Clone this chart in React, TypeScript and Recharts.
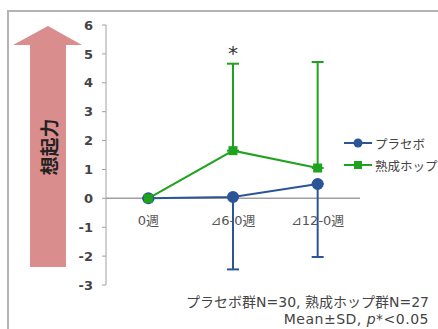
import {
  ComposedChart,
  Line,
  XAxis,
  YAxis,
  ErrorBar,
  ReferenceLine,
  ReferenceDot,
  Legend,
} from "recharts";

// categories and values
const weeks = ["0週", "⊿6-0週", "⊿12-0週"];
const placebo = [0, 0.05, 0.5];
const placeboSD = [0, 2.51, 2.53];
const hop = [0, 1.65, 1.05];
const hopSD = [0, 3.01, 3.67];
const yTicks = [-3, -2, -1, 0, 1, 2, 3, 4, 5, 6];

// placebo shows only the lower whisker, hop only the upper one
const data = weeks.map((w, i) => ({
  week: w,
  placebo: placebo[i],
  placeboErr: [placeboSD[i], 0],
  hop: hop[i],
  hopErr: [0, hopSD[i]],
}));

const BLUE = "#2c5597";
const GREEN = "#1fa31f";
const FONT = '"DejaVu Sans", "Noto Sans CJK JP", sans-serif';

const SquareDot = (props: any) => {
  const { cx, cy } = props;
  if (cx == null || cy == null) return null;
  return <rect x={cx - 4.5} y={cy - 4.5} width={9} height={9} fill={GREEN} />;
};

const LegendBox = ({ payload }: any) => (
  <div style={{ fontFamily: FONT, fontSize: 12.5, color: "#444" }}>
    {(payload || []).map((p: any) => (
      <div key={p.value} style={{ display: "flex", alignItems: "center", height: 22 }}>
        <svg width={30} height={12}>
          <line x1={1} y1={6} x2={29} y2={6} stroke={p.color} strokeWidth={2} />
          {p.dataKey === "placebo" ? (
            <circle cx={15} cy={6} r={4.5} fill={p.color} />
          ) : (
            <rect x={11} y={2} width={8} height={8} fill={p.color} />
          )}
        </svg>
        <span style={{ marginLeft: 2 }}>{p.value}</span>
      </div>
    ))}
  </div>
);

export default function App() {
  return (
    <div style={{ position: "absolute", left: 0, top: 0, width: 438, height: 329, overflow: "hidden", background: "#fff" }}>
      {/* frame */}
      <div
        style={{
          position: "absolute",
          left: 7,
          top: 10,
          width: 440,
          height: 330,
          borderTop: "2px solid #b4b4b4",
          borderLeft: "2px solid #b4b4b4",
        }}
      />
      {/* big arrow with label */}
      <svg style={{ position: "absolute", left: 0, top: 0 }} width={100} height={300}>
        <polygon points="48,26 82,45 66,45 66,267 30,267 30,45 13,45" fill="#d98d8d" />
        <text
          x={48}
          y={147}
          transform="rotate(-90 48 147)"
          textAnchor="middle"
          dominantBaseline="central"
          fontFamily='"Noto Sans CJK JP", sans-serif'
          fontWeight={700}
          fontSize={19}
          fill="#222"
        >
          想起力
        </text>
      </svg>
      <div style={{ position: "absolute", left: 0, top: 0 }}>
        <ComposedChart
          width={438}
          height={329}
          data={data}
          margin={{ top: 25, right: 78, left: 56, bottom: 44 }}
        >
          <XAxis dataKey="week" scale="band" hide />
          <YAxis
            width={50}
            domain={[-3, 6]}
            ticks={yTicks}
            interval={0}
            tickSize={4}
            tickMargin={9}
            axisLine={{ stroke: "#a0a0a0" }}
            tickLine={{ stroke: "#a0a0a0" }}
            tick={{ fill: "#444", fontSize: 13, fontWeight: 700, fontFamily: FONT }}
          />
          <ReferenceLine y={0} stroke="#a0a0a0" strokeWidth={1.5} />
          {weeks.map((w) => (
            <ReferenceDot
              key={w}
              x={w}
              y={0}
              r={0}
              fill="none"
              stroke="none"
              label={{ value: w, position: "bottom", offset: 17, fill: "#555", fontSize: 13, fontFamily: FONT }}
            />
          ))}
          <Line
            dataKey="placebo"
            name="プラセボ"
            stroke={BLUE}
            strokeWidth={2}
            dot={{ r: 5, fill: BLUE, stroke: BLUE }}
            isAnimationActive={false}
          >
            <ErrorBar dataKey="placeboErr" width={6} strokeWidth={2} stroke={BLUE} direction="y" />
          </Line>
          <Line
            dataKey="hop"
            name="熟成ホップ"
            stroke={GREEN}
            strokeWidth={2}
            dot={<SquareDot />}
            isAnimationActive={false}
          >
            <ErrorBar dataKey="hopErr" width={6} strokeWidth={2} stroke={GREEN} direction="y" />
          </Line>
          <ReferenceDot
            x="⊿6-0週"
            y={5.05}
            r={0}
            fill="none"
            stroke="none"
            label={{ value: "*", position: "center", fill: "#333", fontSize: 20, fontFamily: FONT }}
          />
          <Legend
            layout="horizontal"
            align="center"
            verticalAlign="middle"
            content={<LegendBox />}
            wrapperStyle={{ position: "absolute", left: 343, top: 132, width: 95 }}
          />
        </ComposedChart>
      </div>
      <div
        style={{
          position: "absolute",
          right: 9,
          top: 294,
          textAlign: "right",
          fontFamily: FONT,
          fontSize: 14,
          lineHeight: "17px",
          color: "#444",
          whiteSpace: "nowrap",
        }}
      >
        <div>プラセボ群N=30, 熟成ホップ群N=27</div>
        <div style={{ letterSpacing: 0.5 }}>
          Mean±SD, <i>p</i>*&lt;0.05
        </div>
      </div>
    </div>
  );
}
